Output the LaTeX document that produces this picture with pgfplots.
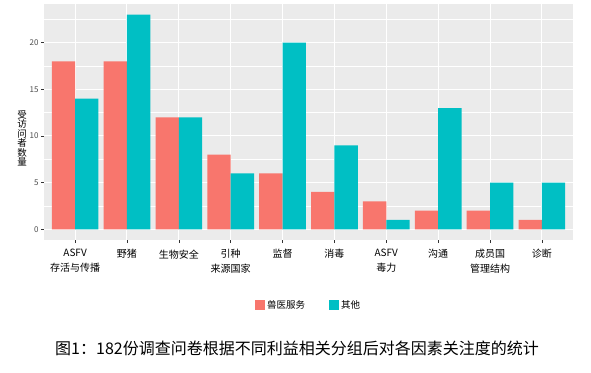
\documentclass[border=0pt]{standalone}
\usepackage{fontspec}
\setmainfont{Noto Sans CJK SC}
\usepackage{pgfplots}
\pgfplotsset{compat=1.18}
\definecolor{cA}{HTML}{F8766D}
\definecolor{cB}{HTML}{00BFC4}
\definecolor{panel}{HTML}{EBEBEB}
\definecolor{grey30}{HTML}{4D4D4D}
\definecolor{grey20}{HTML}{333333}
\pgfplotsset{sqlegend/.style={legend image code/.code={\fill[##1] (0pt,-5pt) rectangle (10pt,5pt);}}}
\begin{document}
\begin{tikzpicture}
\path[use as bounding box] (0pt,0pt) rectangle (591pt,-372pt);
\begin{axis}[
  at={(44pt,-240pt)}, anchor=south west,
  scale only axis, width=529pt, height=236pt,
  xmin=-0.6, xmax=9.6, ymin=-1.15, ymax=24.15,
  axis background/.style={fill=panel},
  axis line style={draw=none},
  xtick={0,1,2,3,4,5,6,7,8,9},
  xticklabels={{ASFV\\存活与传播},野猪,生物安全,{引种\\来源国家},监督,消毒,{ASFV\\毒力},沟通,{成员国\\管理结构},诊断},
  ytick={0,5,10,15,20},
  minor ytick={2.5,7.5,12.5,17.5,22.5},
  grid=both,
  major grid style={white, line width=1pt},
  minor grid style={white, line width=0.5pt},
  tick align=outside,
  major tick length=3pt, minor tick length=0pt,
  tick style={grey20, line width=0.5pt},
  xtick pos=bottom, ytick pos=left,
  /pgf/number format/assume math mode=true,
  yticklabel style={font=\fontsize{8}{9}\selectfont, text=grey30, xshift=1pt},
  xticklabel style={font=\fontsize{10}{15}\selectfont, text=black, align=center, anchor=north, yshift=-3pt},
  ybar, bar width=0.45,
  legend columns=2,
  legend style={at={(0.5,-0.275)}, anchor=center, draw=none, fill=none,
    font=\fontsize{9.5}{11}\selectfont,
    /tikz/every even column/.append style={column sep=22pt}},
]
\addplot[fill=cA, draw=none, bar shift=-0.225, sqlegend] coordinates {(0,18) (1,18) (2,12) (3,8) (4,6) (5,4) (6,3) (7,2) (8,2) (9,1)};
\addlegendentry{兽医服务}
\addplot[fill=cB, draw=none, bar shift=0.225, sqlegend] coordinates {(0,14) (1,23) (2,12) (3,6) (4,20) (5,9) (6,1) (7,13) (8,5) (9,5)};
\addlegendentry{其他}
\end{axis}
\node[align=center, font=\fontsize{9.5}{9.5}\selectfont] at (22pt,-138pt) {受\\访\\问\\者\\数\\量};
\node[font=\fontsize{16}{18}\selectfont] at (297pt,-348pt) {图1：182份调查问卷根据不同利益相关分组后对各因素关注度的统计};
\end{tikzpicture}
\end{document}
